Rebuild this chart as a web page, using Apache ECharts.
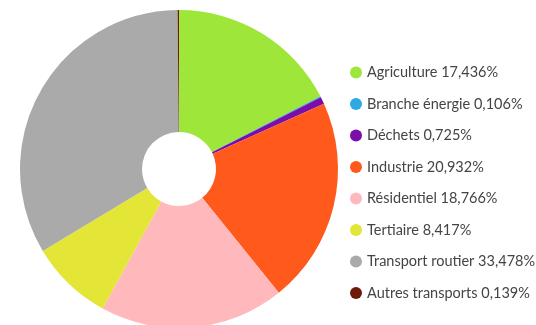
<!DOCTYPE html>
<html><head><meta charset="utf-8">
<script src="https://cdn.jsdelivr.net/npm/echarts@6/dist/echarts.min.js"></script>
<style>html,body{margin:0;padding:0;background:#fff}#c{width:536px;height:325px}</style>
</head><body><div id="c"></div>
<script>
const categories = ["Agriculture","Branche énergie","Déchets","Industrie","Résidentiel","Tertiaire","Transport routier","Autres transports"];
const values = [17.436,0.106,0.725,20.932,18.766,8.417,33.478,0.139];
const labels = ["17,436%","0,106%","0,725%","20,932%","18,766%","8,417%","33,478%","0,139%"];
const colors = ["#9ee63a","#2ea9e2","#7a0ea8","#ff5a1c","#ffb8bb","#e3e537","#aaaaaa","#6e1a0b"];
const chart = echarts.init(document.getElementById('c'));
chart.setOption({
  animation:false,
  color: colors,
  legend:{
    orient:'vertical', left:350, top:65, padding:0,
    icon:'circle', itemWidth:12, itemHeight:12, itemGap:16.5,
    textStyle:{fontFamily:'Lato', fontSize:14.5, color:'#444', lineHeight:14},
    formatter: n => n + ' ' + labels[categories.indexOf(n)],
    data: categories
  },
  series:[{
    type:'pie', center:[179,169], radius:[37,159], startAngle:90, clockwise:true,
    label:{show:false}, labelLine:{show:false},
    itemStyle:{borderWidth:0},
    data: categories.map((c,i)=>({name:c, value:values[i]}))
  }]
});
</script></body></html>
